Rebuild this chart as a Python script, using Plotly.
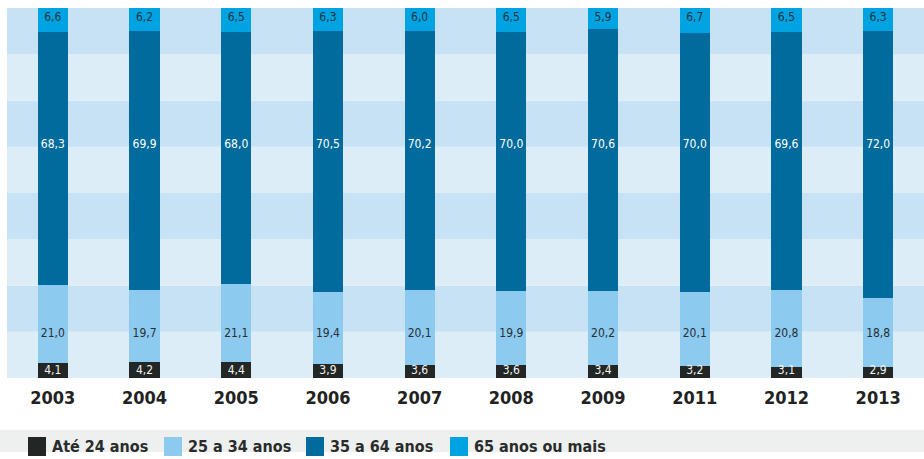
import plotly.graph_objects as go

years = ["2003", "2004", "2005", "2006", "2007", "2008", "2009", "2011", "2012", "2013"]

ate_24 = [4.1, 4.2, 4.4, 3.9, 3.6, 3.6, 3.4, 3.2, 3.1, 2.9]
de_25_34 = [21.0, 19.7, 21.1, 19.4, 20.1, 19.9, 20.2, 20.1, 20.8, 18.8]
de_35_64 = [68.3, 69.9, 68.0, 70.5, 70.2, 70.0, 70.6, 70.0, 69.6, 72.0]
mais_65 = [6.6, 6.2, 6.5, 6.3, 6.0, 6.5, 5.9, 6.7, 6.5, 6.3]

series_names = ["Até 24 anos", "25 a 34 anos", "35 a 64 anos", "65 anos ou mais"]
series_values = [ate_24, de_25_34, de_35_64, mais_65]
colors = ["#222624", "#8ccaf0", "#006b9c", "#00a3e1"]
label_colors = ["#f2f2f2", "#2a2f33", "#ffffff", "#1f3440"]
# value labels sit at a fixed height per series in the original
label_y = [2.0, 11.9, 63.0, 97.3]

FONT = "DejaVu Sans Condensed, Liberation Sans Narrow, Arial Narrow, sans-serif"

fig = go.Figure()

for name, vals, col in zip(series_names, series_values, colors):
    fig.add_trace(go.Bar(
        x=years, y=vals, name=name, marker=dict(color=col, line=dict(width=0)),
        width=0.33, showlegend=False, hoverinfo="skip",
    ))

for vals, ly, lc in zip(series_values, label_y, label_colors):
    fig.add_trace(go.Scatter(
        x=years, y=[ly] * len(years), mode="text",
        text=[f"{v:.1f}".replace(".", ",") for v in vals],
        textfont=dict(family=FONT, size=12, color=lc),
        showlegend=False, hoverinfo="skip",
    ))

# alternating background bands
for i in range(8):
    fig.add_shape(
        type="rect", xref="paper", yref="y", x0=0, x1=1,
        y0=i * 12.5, y1=(i + 1) * 12.5,
        fillcolor="#ddedf8" if i % 2 == 0 else "#c7e2f4",
        line=dict(width=0), layer="below",
    )

# legend strip drawn by hand
fig.add_shape(type="rect", xref="paper", yref="paper", x0=-0.01, x1=1.0,
              y0=-0.2, y1=(378 - 430) / 370, fillcolor="#eef0ef", line=dict(width=0))
leg_x = [28, 164, 306, 450]
for name, col, lx in zip(series_names, colors, leg_x):
    fig.add_shape(type="rect", xref="paper", yref="paper",
                  x0=(lx - 7) / 917, x1=(lx + 18 - 7) / 917,
                  y0=(378 - 456) / 370, y1=(378 - 437) / 370,
                  fillcolor=col, line=dict(width=0))
    fig.add_annotation(xref="paper", yref="paper", x=(lx + 22 - 7) / 917,
                       y=(378 - 446.5) / 370, text=f"<b>{name}</b>",
                       showarrow=False, xanchor="left", yanchor="middle",
                       font=dict(family=FONT, size=16, color="#2a2c2c"))

fig.update_layout(
    barmode="stack",
    width=924, height=459,
    margin=dict(l=7, r=0, t=8, b=81),
    paper_bgcolor="white", plot_bgcolor="white",
    xaxis=dict(
        type="category", range=[-0.5, 9.5], showgrid=False, zeroline=False,
        ticks="", ticklabelstandoff=7,
        tickfont=dict(family=FONT, size=18, color="#222222", weight="bold"),
    ),
    yaxis=dict(range=[0, 100], showgrid=False, zeroline=False,
               showticklabels=False, ticks=""),
)

fig.write_html("out.html", config={"displayModeBar": False},
               post_script="document.body.style.margin='0';")
